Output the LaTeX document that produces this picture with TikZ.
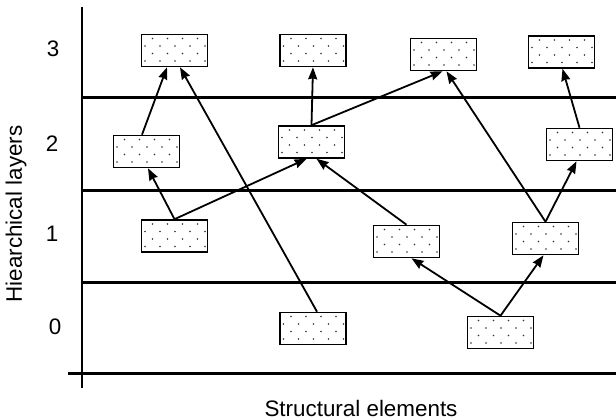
\documentclass[tikz,border=0pt]{standalone}
\usepackage{fontspec}
\setmainfont{Liberation Sans}
\usetikzlibrary{arrows.meta}
\tikzset{
  elem/.style={draw=black, line width=1.6pt, fill=white, minimum width=66pt, minimum height=32pt, inner sep=0pt,
    path picture={
      \foreach \j in {0,...,4}{
        \foreach \i in {0,...,4}{
          \pgfmathsetmacro{\xo}{mod(\j,2)==0 ? 11 : 3.5}
          \fill[black!80] ([xshift=\xo pt + \i*15pt, yshift=-4pt - \j*7.5pt]path picture bounding box.north west) circle (0.85pt);
        }
      }
    }},
  layer/.style={line width=3pt},
  arr/.style={line width=1.8pt, -{Stealth[inset=1pt,length=12pt,width=9pt]}},
  lbl/.style={font=\fontsize{22.4}{26}\selectfont, inner sep=0pt}
}
\begin{document}
\begin{tikzpicture}[x=1pt,y=-1pt]
\useasboundingbox (0,0) rectangle (616,420);
% axes and layer lines
\coordinate (vt) at (82,7);
\coordinate (vb) at (82,388);
\draw[line width=1.5pt] (vt) -- (vb);
\coordinate (l1a) at (82,97);   \coordinate (l1b) at (616,97);
\coordinate (l2a) at (82,190);  \coordinate (l2b) at (616,190);
\coordinate (l3a) at (82,282);  \coordinate (l3b) at (616,282);
\coordinate (l4a) at (68,373);  \coordinate (l4b) at (616,373);
\draw[layer] (l1a) -- (l1b);
\draw[layer] (l2a) -- (l2b);
\draw[layer] (l3a) -- (l3b);
\draw[layer] (l4a) -- (l4b);
% labels
\node[lbl] (n3) at (53,49) {3};
\node[lbl] (n2) at (52,144) {2};
\node[lbl] (n1) at (52,234) {1};
\node[lbl] (n0) at (55,327) {0};
\node[lbl, rotate=90] (ylab) at (16,214) {Hiearchical layers};
\node[lbl, anchor=base] (xlab) at (361,416) {Structural elements};
% elements
\node[elem] (A) at (174.5,50.5) {};
\node[elem] (B) at (313,50.5) {};
\node[elem] (C) at (443.5,54.5) {};
\node[elem] (D) at (561.5,52) {};
\node[elem] (E) at (146.5,151.5) {};
\node[elem] (F) at (311.5,142) {};
\node[elem] (G) at (579.5,144.5) {};
\node[elem] (H) at (174.5,236) {};
\node[elem] (I) at (406.5,241.5) {};
\node[elem] (J) at (545.5,238.5) {};
\node[elem] (K) at (313,328.5) {};
\node[elem] (L) at (500.5,332.5) {};
% connectors
\draw[arr] ([xshift=-4.5pt]E.north) -- ([xshift=-7.5pt]A.south);
\draw[arr] ([xshift=4pt]K.north) -- ([xshift=5.5pt]A.south);
\draw[arr] (H.north) -- ([xshift=1.5pt]E.south);
\draw[arr] (H.north) -- ([xshift=-5pt]F.south);
\draw[arr] (I.north) -- ([xshift=5pt]F.south);
\draw[arr] (F.north) -- (B.south);
\draw[arr] (F.north) -- ([xshift=-1pt]C.south);
\draw[arr] (J.north) -- ([xshift=3pt]C.south);
\draw[arr] (J.north) -- ([xshift=-3pt]G.south);
\draw[arr] (G.north) -- ([xshift=1pt]D.south);
\draw[arr] (L.north) -- ([xshift=5pt]I.south);
\draw[arr] (L.north) -- ([xshift=-2pt]J.south);
\end{tikzpicture}
\end{document}
